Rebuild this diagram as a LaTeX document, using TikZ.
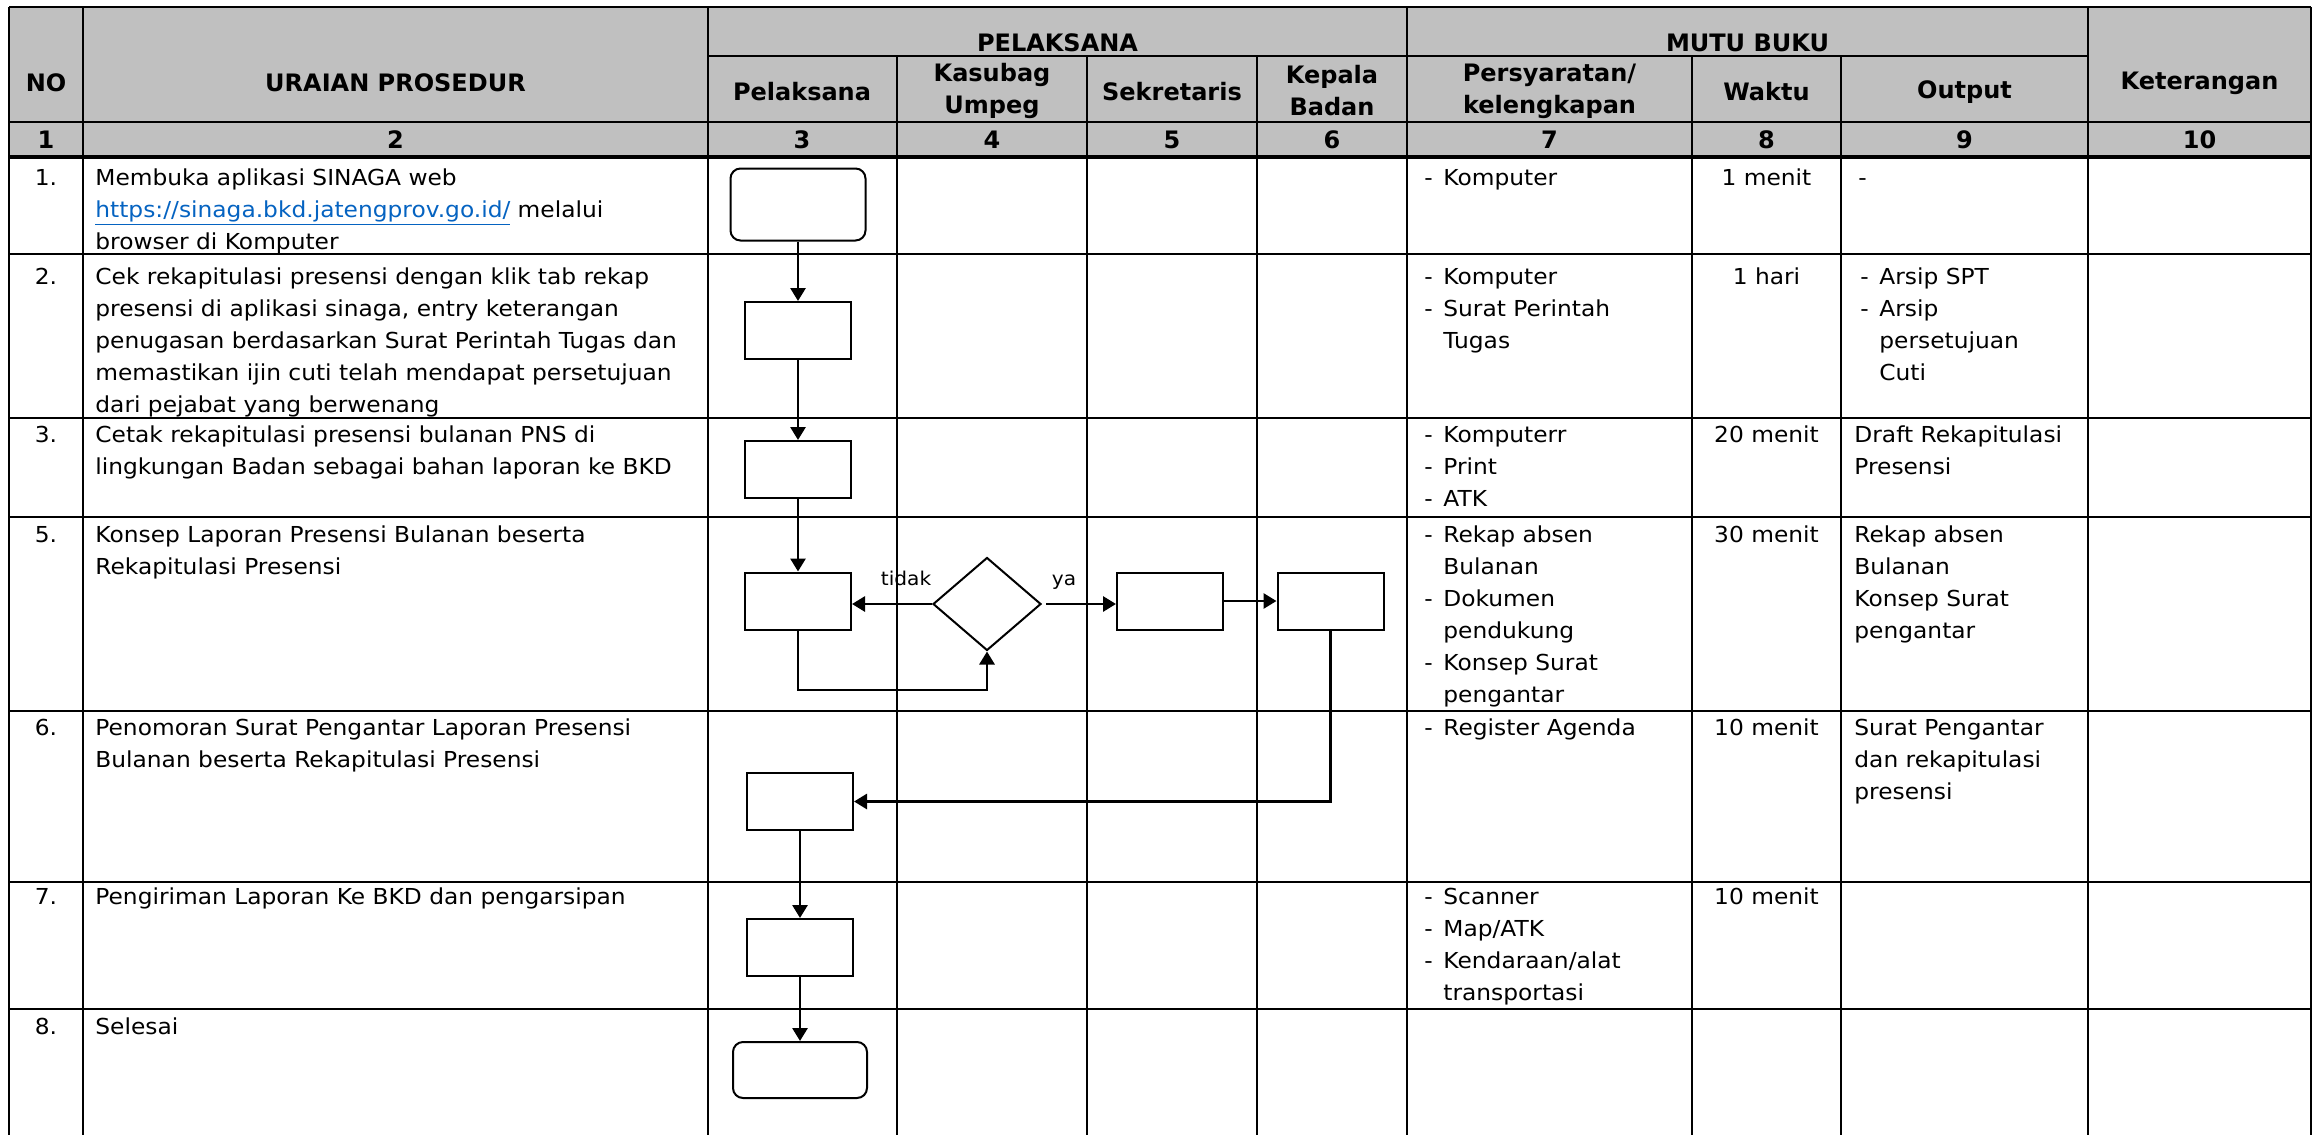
\documentclass[tikz,border=0pt]{standalone}
\usepackage{fontspec}
\setmainfont{DejaVu Sans}
\newfontfamily\bodyfont[FakeStretch=1.06]{DejaVu Sans}
\usetikzlibrary{arrows.meta, shapes.geometric, positioning}
\definecolor{hdrgray}{RGB}{192,192,192}
\definecolor{linkblue}{RGB}{5,99,193}
\newcommand{\itm}{\makebox[9.5pt][l]{-}}
\newcommand{\cnt}{\hspace*{9.5pt}}

\begin{document}
\begin{tikzpicture}[x=0.5pt,y=-0.5pt,
  grid/.style={line width=1.3pt},
  hdr/.style={font=\fontsize{12}{16}\selectfont\bfseries, align=center, inner sep=0pt},
  txt/.style={font=\bodyfont\fontsize{11}{16}\selectfont, align=left, anchor=north west, inner sep=0pt},
  num/.style={font=\bodyfont\fontsize{11}{16}\selectfont, anchor=north, inner sep=0pt},
  proc/.style={draw, line width=1pt, minimum width=53pt, minimum height=28.5pt, inner sep=0pt},
  term/.style={proc, rounded corners=5pt, minimum width=67.5pt, minimum height=36pt},
  decision/.style={draw, diamond, line width=1pt, aspect=1.14, minimum width=54pt, minimum height=46.5pt, inner sep=0pt},
  flow/.style={line width=1.4pt, -{Triangle[length=6.5pt,width=7.5pt]}},
  lbl/.style={font=\bodyfont\fontsize{9.5}{10}\selectfont, inner sep=0pt}]
\useasboundingbox (0,0) rectangle (2317,1135);
% header band and grid
\fill[hdrgray] (9,7) rectangle (2311,157);
\foreach \y in {7,122,254,418,517,711,882,1009} \draw[grid] (9,\y) -- (2311,\y);
\draw[line width=2pt] (9,157) -- (2311,157);
\draw[grid] (708,56) -- (2088,56);
\foreach \x in {9,83,708,1407,2088,2311} \draw[grid] (\x,7) -- (\x,1135);
\foreach \x in {897,1087,1257,1692,1841} \draw[grid] (\x,56) -- (\x,1135);

% header texts
\node[hdr] (hno) at (46,83) {NO};
\node[hdr] (hur) at (395.5,83) {URAIAN PROSEDUR};
\node[hdr] (hpel) at (1057.5,43) {PELAKSANA};
\node[hdr] (hmutu) at (1747.5,43) {MUTU BUKU};
\node[hdr] (hket) at (2199.5,83) {Keterangan};
\node[hdr] (hp1) at (802,92) {Pelaksana};
\node[hdr] (hp2) at (992,91) {Kasubag\\Umpeg};
\node[hdr] (hp3) at (1172,92) {Sekretaris};
\node[hdr] (hp4) at (1332,91) {Kepala\\Badan};
\node[hdr] (hm1) at (1549.5,91) {Persyaratan/\\kelengkapan};
\node[hdr] (hm2) at (1766.5,92) {Waktu};
\node[hdr] (hm3) at (1964.5,92) {Output};
\foreach \x/\t in {46/1,395.5/2,802/3,992/4,1172/5,1332/6,1549.5/7,1766.5/8,1964.5/9,2199.5/10}
  \node[hdr] (col\t) at (\x,140) {\t};

% row 1
\node[num] (n1) at (46,162.6) {\strut 1.};
\node[txt] (u1) at (95,162.6) {\strut Membuka aplikasi SINAGA web\\\textcolor{linkblue}{\underline{https://sinaga.bkd.jatengprov.go.id/}} melalui\\browser di Komputer};
\node[txt] (p1) at (1424,162.6) {\strut\itm Komputer};
\node[num] (w1) at (1766.5,162.6) {\strut 1 menit};
\node[txt] (o1) at (1858,162.6) {\strut -};
% row 2
\node[num] (n2) at (46,261.6) {\strut 2.};
\node[txt] (u2) at (95,261.6) {\strut Cek rekapitulasi presensi dengan klik tab rekap\\presensi di aplikasi sinaga, entry keterangan\\penugasan berdasarkan Surat Perintah Tugas dan\\memastikan ijin cuti telah mendapat persetujuan\\dari pejabat yang berwenang};
\node[txt] (p2) at (1424,261.6) {\strut\itm Komputer\\\itm Surat Perintah\\\cnt Tugas};
\node[num] (w2) at (1766.5,261.6) {\strut 1 hari};
\node[txt] (o2) at (1860,261.6) {\strut\itm Arsip SPT\\\itm Arsip\\\cnt persetujuan\\\cnt Cuti};
% row 3
\node[num] (n3) at (46,419.6) {\strut 3.};
\node[txt] (u3) at (95,419.6) {\strut Cetak rekapitulasi presensi bulanan PNS di\\lingkungan Badan sebagai bahan laporan ke BKD};
\node[txt] (p3) at (1424,419.6) {\strut\itm Komputerr\\\itm Print\\\itm ATK};
\node[num] (w3) at (1766.5,419.6) {\strut 20 menit};
\node[txt] (o3) at (1854,419.6) {\strut Draft Rekapitulasi\\Presensi};
% row 5
\node[num] (n4) at (46,519.6) {\strut 5.};
\node[txt] (u4) at (95,519.6) {\strut Konsep Laporan Presensi Bulanan beserta\\Rekapitulasi Presensi};
\node[txt] (p4) at (1424,519.6) {\strut\itm Rekap absen\\\cnt Bulanan\\\itm Dokumen\\\cnt pendukung\\\itm Konsep Surat\\\cnt pengantar};
\node[num] (w4) at (1766.5,519.6) {\strut 30 menit};
\node[txt] (o4) at (1854,519.6) {\strut Rekap absen\\Bulanan\\Konsep Surat\\pengantar};
% row 6
\node[num] (n5) at (46,712.6) {\strut 6.};
\node[txt] (u5) at (95,712.6) {\strut Penomoran Surat Pengantar Laporan Presensi\\Bulanan beserta Rekapitulasi Presensi};
\node[txt] (p5) at (1424,712.6) {\strut\itm Register Agenda};
\node[num] (w5) at (1766.5,712.6) {\strut 10 menit};
\node[txt] (o5) at (1854,712.6) {\strut Surat Pengantar\\dan rekapitulasi\\presensi};
% row 7
\node[num] (n6) at (46,881.6) {\strut 7.};
\node[txt] (u6) at (95,881.6) {\strut Pengiriman Laporan Ke BKD dan pengarsipan};
\node[txt] (p6) at (1424,881.6) {\strut\itm Scanner\\\itm Map/ATK\\\itm Kendaraan/alat\\\cnt transportasi};
\node[num] (w6) at (1766.5,881.6) {\strut 10 menit};
% row 8
\node[num] (n7) at (46,1011.6) {\strut 8.};
\node[txt] (u7) at (95,1011.6) {\strut Selesai};

% flowchart
\node[term] (start) at (798,204.5) {};
\node[proc] (cek) at (798,330.5) {};
\node[proc] (cetak) at (798,469.5) {};
\node[proc] (konsep) at (798,601) {};
\node[decision] (periksa) at (987,604) {};
\node[proc] (sekr) at (1170,601) {};
\node[proc] (kepala) at (1330.5,601) {};
\node[proc] (nomor) at (800,801.5) {};
\node[proc] (kirim) at (800,947.5) {};
\node[term, minimum height=28pt, minimum width=67pt] (selesai) at (800,1070) {};
\coordinate (loop) at (798,690);

\draw[flow] (start) -- (cek);
\draw[flow] (cek) -- (cetak);
\draw[flow] (cetak) -- (konsep);
\draw[flow] (periksa.west) -- (periksa.west -| konsep.east);
\draw[flow, shorten <=2pt] (periksa.east) -- (periksa.east -| sekr.west);
\draw[flow] (sekr.east) -- (kepala.west);
\draw[flow] (konsep.south) -- (loop) -| (periksa.south);
\draw[flow] (kepala.south) |- (nomor.east);
\draw[flow] (nomor) -- (kirim);
\draw[flow] (kirim) -- (selesai);
\node[lbl] (ltidak) at (906,578) {tidak};
\node[lbl] (lya) at (1064,582) {ya};
\end{tikzpicture}
\end{document}
